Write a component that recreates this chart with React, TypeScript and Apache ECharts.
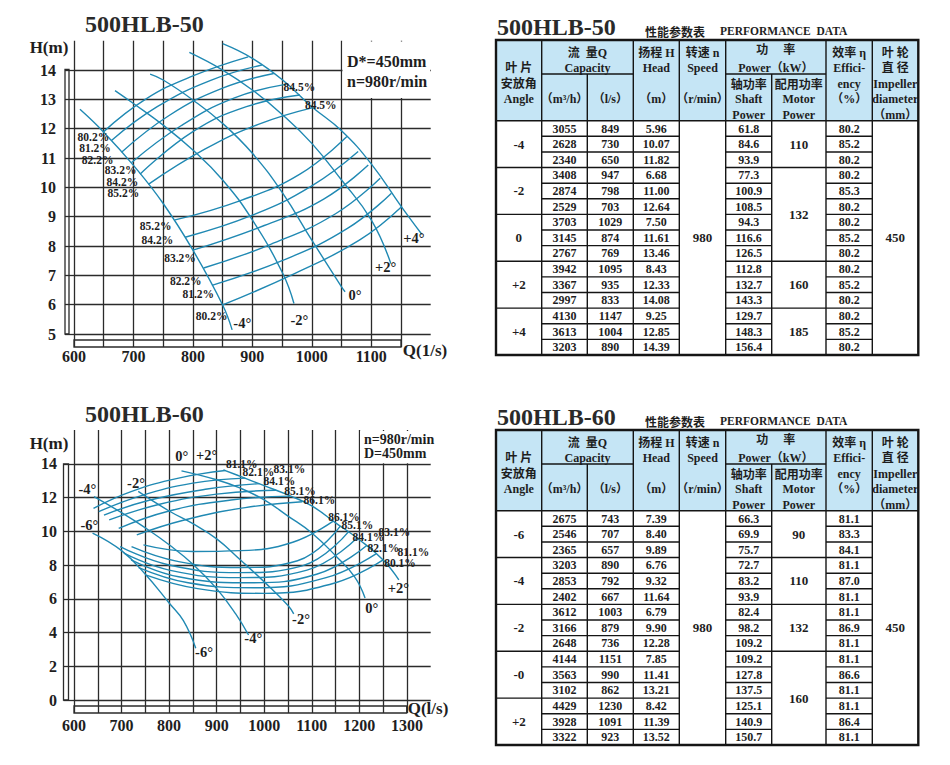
import React, { useEffect, useRef } from 'react';
import * as echarts from 'echarts';

// ================= 500HLB-50 (top chart) =================
const x50Ticks = [600, 650, 700, 750, 800, 850, 900, 950, 1000, 1050, 1100, 1150];
const x50Labels = [600, 700, 800, 900, 1000, 1100];
const y50Ticks = [5, 6, 7, 8, 9, 10, 11, 12, 13, 14];

// H-Q curves per blade angle
const hq50_m4 = [[610, 12.66], [650, 11.88], [700, 10.75], [750, 9.45], [800, 7.86], [850, 5.99], [866, 5.14]];
const hq50_m2 = [[669, 13.3], [700, 12.86], [750, 12.12], [800, 11.27], [850, 10.25], [900, 8.89], [951, 7.07], [970, 6.04]];
const hq50_0 = [[728, 13.86], [750, 13.66], [800, 12.98], [850, 12.18], [900, 11.16], [951, 9.8], [1000, 8.2], [1050, 6.61], [1056, 6.44]];
const hq50_p2 = [[794, 14.6], [850, 14.0], [900, 13.32], [951, 12.47], [1000, 11.5], [1050, 10.25], [1100, 8.89], [1133, 7.4]];
const hq50_p4 = [[850, 14.9], [900, 14.4], [951, 13.66], [1000, 12.75], [1050, 11.93], [1100, 10.8], [1150, 9.36], [1185, 8.4]];

// iso-efficiency arcs (upper branches)
const eff50Upper = [
  [[650, 11.9], [720, 13.0], [800, 13.8], [893, 14.45]],
  [[663, 11.6], [740, 12.75], [830, 13.65], [916, 14.17]],
  [[680, 11.2], [760, 12.45], [850, 13.38], [936, 13.88]],
  [[697, 10.85], [780, 12.1], [870, 13.05], [958, 13.52]],
  [[711, 10.45], [800, 11.9], [890, 12.75], [980, 13.15]],
  [[725, 10.1], [820, 11.3], [910, 12.15], [1002, 12.72]],
];
// iso-efficiency arcs (lower branches)
const eff50Lower = [
  [[770, 8.89], [880, 9.55], [980, 10.45], [1059, 11.73]],
  [[787, 8.3], [900, 9.05], [1000, 10.05], [1078, 11.22]],
  [[800, 7.86], [920, 8.7], [1020, 9.6], [1095, 10.76]],
  [[818, 7.25], [930, 8.05], [1040, 9.1], [1115, 10.31]],
  [[832, 6.66], [950, 7.5], [1060, 8.6], [1134, 9.8]],
  [[850, 5.99], [970, 7.05], [1080, 8.2], [1151, 9.34]],
];

const pct50Labels = [
  ['80.2%', 632.5, 11.72], ['81.2%', 635.3, 11.33], ['82.2%', 639.8, 10.92],
  ['83.2%', 678.5, 10.58], ['84.2%', 681.3, 10.19], ['85.2%', 683, 9.8],
  ['85.2%', 737.4, 8.68], ['84.2%', 740.2, 8.22], ['83.2%', 778.3, 7.58],
  ['82.2%', 787.9, 6.8], ['81.2%', 809.1, 6.36], ['80.2%', 831.6, 5.61],
  ['84.5%', 979, 13.41], ['84.5%', 1015, 12.81],
];
const ang50Labels = [
  ['-4°', 883, 5.36], ['-2°', 979, 5.48], ['0°', 1072.7, 6.33], ['+2°', 1124.3, 7.29], ['+4°', 1171.9, 8.26],
];

// ================= 500HLB-60 (bottom chart) =================
const x60Ticks = [600, 650, 700, 750, 800, 850, 900, 950, 1000, 1050, 1100, 1150, 1200, 1250, 1300];
const x60Labels = [600, 700, 800, 900, 1000, 1100, 1200, 1300];
const y60Ticks = [0, 2, 4, 6, 8, 10, 12, 14];

const hq60_m6 = [[639, 9.89], [700, 8.85], [750, 7.45], [800, 5.75], [830, 4.7], [856, 3.07]];
const hq60_m4 = [[642, 12.05], [700, 11.1], [750, 10.2], [800, 9.2], [850, 8.05], [900, 6.6], [940, 5.1], [967, 3.85]];
const hq60_m2 = [[735, 12.36], [800, 11.2], [850, 10.45], [900, 9.55], [950, 8.3], [1000, 7.0], [1050, 5.6], [1062, 5.1]];
const hq60_0 = [[826, 13.58], [900, 13.05], [950, 12.55], [1000, 11.86], [1050, 10.9], [1100, 9.9], [1150, 8.55], [1190, 7.3], [1212, 6.05]];
const hq60_p2 = [[914, 13.64], [950, 13.25], [1000, 12.7], [1050, 12.15], [1100, 11.5], [1150, 10.5], [1200, 9.5], [1250, 8.3], [1283, 7.12]];

const eff60Upper = [
  [[641, 11.36], [720, 12.35], [820, 13.15], [918, 13.6]],
  [[652, 11.16], [740, 12.1], [850, 12.85], [960, 13.15]],
  [[663, 10.96], [760, 11.85], [880, 12.5], [990, 12.82]],
  [[674, 10.67], [780, 11.6], [900, 12.2], [1025, 12.43]],
  [[694, 10.17], [800, 11.2], [930, 11.85], [1055, 12.08]],
  [[732, 9.78], [830, 10.65], [960, 11.4], [1080, 11.75]],
];
const eff60Lower = [
  [[746, 9.19], [850, 8.8], [950, 8.85], [1060, 9.35], [1145, 10.6]],
  [[721, 9.09], [820, 8.2], [950, 7.85], [1070, 8.25], [1160, 10.3]],
  [[697, 9.09], [800, 8.0], [950, 7.55], [1080, 7.95], [1177, 9.96]],
  [[705, 8.7], [800, 7.7], [950, 7.25], [1090, 7.7], [1195, 9.6]],
  [[720, 8.3], [820, 7.3], [970, 6.95], [1110, 7.45], [1215, 9.14]],
  [[736, 7.85], [840, 6.95], [980, 6.65], [1130, 7.25], [1235, 8.66]],
  [[752, 7.4], [860, 6.6], [1000, 6.32], [1150, 6.95], [1250, 8.3]],
];

const pct60Labels = [
  ['81.1%', 952.6, 13.99], ['82.1%', 987.6, 13.49], ['83.1%', 1052.8, 13.67], ['84.1%', 1031.7, 12.98],
  ['85.1%', 1075.2, 12.39], ['86.1%', 1115.8, 11.85], ['86.1%', 1167.7, 10.86], ['85.1%', 1195.7, 10.37],
  ['84.1%', 1218.9, 9.68], ['83.1%', 1273.5, 9.98], ['82.1%', 1250.4, 8.99], ['81.1%', 1313.5, 8.75],
  ['80.1%', 1285.5, 8.14],
];
const ang60Labels = [
  ['-4°', 628, 12.48], ['-6°', 632.3, 10.37], ['-2°', 730.4, 12.88], ['0°', 826.4, 14.48], ['+2°', 879, 14.52],
  ['+2°', 1282, 6.62], ['0°', 1226, 5.43], ['-2°', 1077.3, 4.78], ['-4°', 977, 3.65], ['-6°', 873.4, 2.86],
];

// ================= tables =================
const t50Angles = ['-4', '-2', '0', '+2', '+4'];
const t50Qm3h = ['3055', '2628', '2340', '3408', '2874', '2529', '3703', '3145', '2767', '3942', '3367', '2997', '4130', '3613', '3203'];
const t50Qls = ['849', '730', '650', '947', '798', '703', '1029', '874', '769', '1095', '935', '833', '1147', '1004', '890'];
const t50Head = ['5.96', '10.07', '11.82', '6.68', '11.00', '12.64', '7.50', '11.61', '13.46', '8.43', '12.33', '14.08', '9.25', '12.85', '14.39'];
const t50Shaft = ['61.8', '84.6', '93.9', '77.3', '100.9', '108.5', '94.3', '116.6', '126.5', '112.8', '132.7', '143.3', '129.7', '148.3', '156.4'];
const t50Eff = ['80.2', '85.2', '80.2', '80.2', '85.3', '80.2', '80.2', '85.2', '80.2', '80.2', '85.2', '80.2', '80.2', '85.2', '80.2'];
const t50Motor = [['110', 3], ['132', 6], ['160', 3], ['185', 3]];

const t60Angles = ['-6', '-4', '-2', '-0', '+2'];
const t60Qm3h = ['2675', '2546', '2365', '3203', '2853', '2402', '3612', '3166', '2648', '4144', '3563', '3102', '4429', '3928', '3322'];
const t60Qls = ['743', '707', '657', '890', '792', '667', '1003', '879', '736', '1151', '990', '862', '1230', '1091', '923'];
const t60Head = ['7.39', '8.40', '9.89', '6.76', '9.32', '11.64', '6.79', '9.90', '12.28', '7.85', '11.41', '13.21', '8.42', '11.39', '13.52'];
const t60Shaft = ['66.3', '69.9', '75.7', '72.7', '83.2', '93.9', '82.4', '98.2', '109.2', '109.2', '127.8', '137.5', '125.1', '140.9', '150.7'];
const t60Eff = ['81.1', '83.3', '84.1', '81.1', '87.0', '81.1', '81.1', '86.9', '81.1', '81.1', '86.6', '81.1', '81.1', '86.4', '81.1'];
const t60Motor = [['90', 3], ['110', 3], ['132', 3], ['160', 6]];

const SPEED = '980';
const DIAM = '450';

// ================= styling =================
const CURVE = '#2089b3';
const INK = '#1e1e1e';
const GRID = '#2b2b2b';
const SERIF = 'Liberation Serif';
const COLX = [496, 541.7, 587.3, 633.3, 679.3, 725.7, 771.7, 826, 872.3, 918.3];
const ROWH = 15.62;

function txt(text: string, x: number, y: number, font: string, align = 'center', fill = INK) {
  return { type: 'text', x, y, z: 20, silent: true, style: { text, font, fill, align, verticalAlign: 'middle' } };
}

function tableEls(T: number, title: string, angles: string[], qm: string[], ql: string[], hd: string[], sp: string[], ef: string[], motor: any[]) {
  const X = COLX;
  const S = T + 34;
  const HB = T + 80.7;
  const B = HB + ROWH * 15;
  const els: any[] = [];
  const c = (k: number) => (X[k] + X[k + 1]) / 2;
  const ln = (x1: number, y1: number, x2: number, y2: number, w = 1.4) =>
    els.push({ type: 'line', z: 12, silent: true, shape: { x1, y1, x2, y2 }, style: { stroke: '#151515', lineWidth: w } });

  els.push(txt(title, 497, T - 13.5, `bold 24px "${SERIF}"`, 'left', '#2a2a2a'));
  els.push(txt('性能参数表', 645, T - 9, 'bold 12px "Noto Sans CJK SC"', 'left'));
  els.push(txt('PERFORMANCE  DATA', 720, T - 9, `bold 11.5px "${SERIF}"`, 'left'));

  els.push({ type: 'rect', z: 10, silent: true, shape: { x: X[0], y: T, width: X[9] - X[0], height: HB - T }, style: { fill: '#c5e5f5' } });

  [1, 3, 4, 5, 7, 8].forEach((k) => ln(X[k], T, X[k], B));
  [2, 6].forEach((k) => ln(X[k], S, X[k], B));
  ln(X[1], S, X[3], S);
  ln(X[5], S, X[7], S);
  ln(X[0], HB, X[9], HB, 1.6);
  for (let r = 1; r < 15; r++) {
    const y = HB + r * ROWH;
    ln(X[1], y, X[4], y);
    ln(X[5], y, X[6], y);
    ln(X[7], y, X[8], y);
    if (r % 3 === 0) ln(X[0], y, X[1], y);
  }
  let acc = 0;
  motor.forEach((m: any, i: number) => {
    const y0 = HB + acc * ROWH;
    acc += m[1];
    const y1 = HB + acc * ROWH;
    if (i < motor.length - 1) ln(X[6], y1, X[7], y1);
    els.push(txt(m[0], c(6), (y0 + y1) / 2, `bold 13px "${SERIF}"`));
  });
  els.push({ type: 'rect', z: 13, silent: true, shape: { x: X[0], y: T, width: X[9] - X[0], height: B - T }, style: { fill: 'none', stroke: '#151515', lineWidth: 2.4 } });

  const HF = `bold 12px "${SERIF}", "Noto Sans CJK SC"`;
  const heads: any[] = [
    [c(0), 28.3, '叶 片'], [c(0), 43.5, '安放角'], [c(0), 59, 'Angle'],
    [(X[1] + X[3]) / 2, 12.7, '流  量Q'], [(X[1] + X[3]) / 2, 28.3, 'Capacity'],
    [c(1), 59, '（m³/h）'], [c(2), 59, '（l/s）'],
    [c(3), 12.7, '扬程 H'], [c(3), 28.3, 'Head'], [c(3), 59, '（m）'],
    [c(4), 12.7, '转速 n'], [c(4), 28.3, 'Speed'], [c(4), 59, '（r/min）'],
    [(X[5] + X[7]) / 2, 10, '功     率'], [(X[5] + X[7]) / 2, 28.3, 'Power（kW）'],
    [c(5), 44.5, '轴功率'], [c(5), 59, 'Shaft'], [c(5), 75, 'Power'],
    [c(6), 44.5, '配用功率'], [c(6), 59, 'Motor'], [c(6), 75, 'Power'],
    [c(7), 12.7, '效率 η'], [c(7), 28.3, 'Effici-'], [c(7), 44, 'ency'], [c(7), 59, '（%）'],
    [c(8), 12.7, '叶 轮'], [c(8), 28.3, '直 径'], [c(8), 44, 'Impeller'], [c(8), 59, 'diameter'], [c(8), 75, '（mm）'],
  ];
  heads.forEach((h) => els.push(txt(h[2], h[0], T + h[1], HF)));

  const DF = `bold 12px "${SERIF}"`;
  for (let i = 0; i < 15; i++) {
    const y = HB + ROWH * (i + 0.5);
    els.push(txt(qm[i], c(1), y, DF));
    els.push(txt(ql[i], c(2), y, DF));
    els.push(txt(hd[i], c(3), y, DF));
    els.push(txt(sp[i], c(5), y, DF));
    els.push(txt(ef[i], c(7), y, DF));
  }
  angles.forEach((a, g) => els.push(txt(a, c(0), HB + ROWH * (g * 3 + 1.5), `bold 13px "${SERIF}"`)));
  els.push(txt(SPEED, c(4), HB + ROWH * 7.5, `bold 13px "${SERIF}"`));
  els.push(txt(DIAM, c(8), HB + ROWH * 7.5, `bold 13px "${SERIF}"`));
  return els;
}

function curve(data: number[][], gi: number) {
  return {
    type: 'line', xAxisIndex: gi, yAxisIndex: gi, data, smooth: 0.45,
    showSymbol: false, symbol: 'none', silent: true, z: 3,
    lineStyle: { color: CURVE, width: 1.4 },
  };
}

function labels(arr: any[], gi: number, size: number) {
  return {
    type: 'scatter', xAxisIndex: gi, yAxisIndex: gi, symbolSize: 1, silent: true, z: 6,
    itemStyle: { color: 'rgba(0,0,0,0)', opacity: 1 },
    data: arr.map((l) => ({ name: l[0], value: [l[1], l[2]] })),
    label: { show: true, position: 'inside', formatter: '{b}', color: INK, opacity: 1, fontFamily: SERIF, fontWeight: 'bold', fontSize: size, lineHeight: size },
  };
}

function xAxis(gi: number, min: number, max: number, ticks: number[], labs: number[], margin: number) {
  return {
    type: 'value', gridIndex: gi, min, max, interval: 50,
    axisLine: { show: false },
    axisTick: { show: true, customValues: ticks, length: 13, lineStyle: { color: GRID, width: 1.3 } },
    axisLabel: {
      customValues: labs, margin, color: INK, fontFamily: SERIF, fontWeight: 'bold', fontSize: 16,
      formatter: (v: number) => (labs.indexOf(v) >= 0 ? String(v) : ''),
    },
    splitLine: { show: true, lineStyle: { color: GRID, width: 1.3 } },
  };
}

function yAxis(gi: number, min: number, max: number, interval: number, ticks: number[], tickLen: number, margin: number) {
  return {
    type: 'value', gridIndex: gi, min, max, interval,
    axisLine: { show: false },
    axisTick: { show: true, customValues: ticks, length: tickLen, lineStyle: { color: GRID, width: 1.3 } },
    axisLabel: {
      customValues: ticks, margin, color: INK, fontFamily: SERIF, fontWeight: 'bold', fontSize: 16,
      formatter: (v: number) => (ticks.indexOf(v) >= 0 ? String(v) : ''),
    },
    splitLine: { show: true, lineStyle: { color: GRID, width: 1.3 } },
  };
}

export default function App() {
  const ref = useRef<HTMLDivElement>(null);
  useEffect(() => {
    if (!ref.current) return;
    const chart = echarts.init(ref.current, null, { renderer: 'svg' });
    const stripStyle = { fill: 'none', stroke: GRID, lineWidth: 1.3 };
    const graphic: any[] = [
      txt('500HLB-50', 85, 24, `bold 24px "${SERIF}"`, 'left', '#2a2a2a'),
      txt('500HLB-60', 85, 413.5, `bold 24px "${SERIF}"`, 'left', '#2a2a2a'),
      txt('H(m)', 49, 47.5, `bold 17px "${SERIF}"`),
      txt('Q(1/s)', 425, 350.5, `bold 17px "${SERIF}"`),
      txt('H(m)', 49, 443, `bold 17px "${SERIF}"`),
      txt('Q(l/s)', 428, 708.5, `bold 17px "${SERIF}"`),
      { type: 'rect', z: 15, silent: true, shape: { x: 342.5, y: 41.5, width: 87.5, height: 56.4 }, style: { fill: '#fff' } },
      txt('D*=450mm', 347, 61, `bold 16px "${SERIF}"`, 'left'),
      txt('n=980r/min', 347, 81, `bold 16px "${SERIF}"`, 'left'),
      { type: 'rect', z: 15, silent: true, shape: { x: 360, y: 431, width: 70, height: 32.3 }, style: { fill: '#fff' } },
      txt('n=980r/min', 364, 439.5, `bold 14px "${SERIF}"`, 'left'),
      txt('D=450mm', 364, 453, `bold 14px "${SERIF}"`, 'left'),
      { type: 'rect', z: 15, silent: true, shape: { x: 65, y: 69.3, width: 4, height: 264.7 }, style: stripStyle },
      { type: 'rect', z: 15, silent: true, shape: { x: 74, y: 340, width: 327, height: 7 }, style: stripStyle },
      { type: 'rect', z: 15, silent: true, shape: { x: 63.5, y: 464, width: 5, height: 236 }, style: stripStyle },
      { type: 'rect', z: 15, silent: true, shape: { x: 74, y: 706, width: 332.7, height: 7 }, style: stripStyle },
      ...tableEls(40, '500HLB-50', t50Angles, t50Qm3h, t50Qls, t50Head, t50Shaft, t50Eff, t50Motor),
      ...tableEls(430, '500HLB-60', t60Angles, t60Qm3h, t60Qls, t60Head, t60Shaft, t60Eff, t60Motor),
    ];

    const series: any[] = [
      ...[hq50_m4, hq50_m2, hq50_0, hq50_p2, hq50_p4].map((d) => curve(d, 0)),
      ...eff50Upper.map((d) => curve(d, 0)),
      ...eff50Lower.map((d) => curve(d, 0)),
      labels(pct50Labels, 0, 11.5),
      labels(ang50Labels, 0, 14.5),
      ...[hq60_m6, hq60_m4, hq60_m2, hq60_0, hq60_p2].map((d) => curve(d, 1)),
      ...eff60Upper.map((d) => curve(d, 1)),
      ...eff60Lower.map((d) => curve(d, 1)),
      labels(pct60Labels, 1, 11.5),
      labels(ang60Labels, 1, 14.5),
    ];

    chart.setOption({
      animation: false,
      backgroundColor: '#fff',
      grid: [
        { left: 74, top: 40.7, width: 356.7, height: 293.3, containLabel: false },
        { left: 74, top: 430, width: 356.7, height: 270, containLabel: false },
      ],
      xAxis: [
        xAxis(0, 600, 1200, x50Ticks, x50Labels, 14),
        xAxis(1, 600, 1350, x60Ticks, x60Labels, 17),
      ],
      yAxis: [
        yAxis(0, 5, 15, 1, y50Ticks, 9, 18),
        yAxis(1, 0, 16, 2, y60Ticks, 10.5, 17),
      ],
      series,
      graphic,
    });
    return () => chart.dispose();
  }, []);
  return <div ref={ref} style={{ position: 'absolute', left: 0, top: 0, width: 950, height: 765, background: '#fff' }} />;
}
